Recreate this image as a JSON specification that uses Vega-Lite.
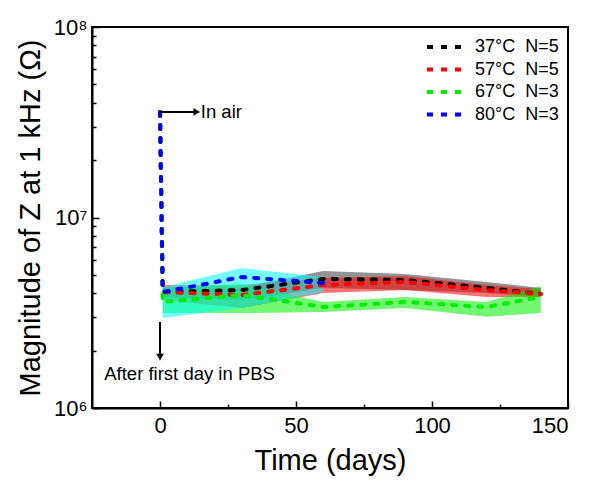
{
  "$schema": "https://vega.github.io/schema/vega-lite/v6.json",
  "autosize": {"type": "none"},
  "width": 476,
  "height": 381,
  "padding": {"left": 92, "top": 27, "right": 21, "bottom": 73},
  "config": {
    "font": "Liberation Sans",
    "view": {"stroke": "black", "strokeWidth": 2},
    "legend": {"orient": "none", "legendX": 333, "legendY": 11, "padding": 0, "symbolType": "stroke", "symbolStrokeWidth": 4, "symbolSize": 1600, "symbolDash": [6, 8], "clipHeight": 18, "labelFontSize": 18, "labelFont": "Liberation Sans", "rowPadding": 4.5, "labelOffset": 6, "labelColor": "black"}
  },
  "datasets": {
    "lines": [
      {"series": "37°C\u00a0\u00a0N=5", "day": 0, "z": 35800000, "ord": 0},
      {"series": "37°C\u00a0\u00a0N=5", "day": 1, "z": 4060000, "ord": 1},
      {"series": "37°C\u00a0\u00a0N=5", "day": 30, "z": 4160000, "ord": 2},
      {"series": "37°C\u00a0\u00a0N=5", "day": 60, "z": 4760000, "ord": 3},
      {"series": "37°C\u00a0\u00a0N=5", "day": 90, "z": 4700000, "ord": 4},
      {"series": "37°C\u00a0\u00a0N=5", "day": 120, "z": 4270000, "ord": 5},
      {"series": "37°C\u00a0\u00a0N=5", "day": 140, "z": 3970000, "ord": 6},
      {"series": "57°C\u00a0\u00a0N=5", "day": 0, "z": 35800000, "ord": 0},
      {"series": "57°C\u00a0\u00a0N=5", "day": 1, "z": 4060000, "ord": 1},
      {"series": "57°C\u00a0\u00a0N=5", "day": 30, "z": 3920000, "ord": 2},
      {"series": "57°C\u00a0\u00a0N=5", "day": 60, "z": 4420000, "ord": 3},
      {"series": "57°C\u00a0\u00a0N=5", "day": 90, "z": 4590000, "ord": 4},
      {"series": "57°C\u00a0\u00a0N=5", "day": 120, "z": 4160000, "ord": 5},
      {"series": "57°C\u00a0\u00a0N=5", "day": 140, "z": 3970000, "ord": 6},
      {"series": "67°C\u00a0\u00a0N=3", "day": 0, "z": 35800000, "ord": 0},
      {"series": "67°C\u00a0\u00a0N=3", "day": 1, "z": 3600000, "ord": 1},
      {"series": "67°C\u00a0\u00a0N=3", "day": 30, "z": 3920000, "ord": 2},
      {"series": "67°C\u00a0\u00a0N=3", "day": 60, "z": 3390000, "ord": 3},
      {"series": "67°C\u00a0\u00a0N=3", "day": 90, "z": 3600000, "ord": 4},
      {"series": "67°C\u00a0\u00a0N=3", "day": 120, "z": 3390000, "ord": 5},
      {"series": "67°C\u00a0\u00a0N=3", "day": 140, "z": 3830000, "ord": 6},
      {"series": "80°C\u00a0\u00a0N=3", "day": 0, "z": 35800000, "ord": 0},
      {"series": "80°C\u00a0\u00a0N=3", "day": 1, "z": 4060000, "ord": 1},
      {"series": "80°C\u00a0\u00a0N=3", "day": 30, "z": 4870000, "ord": 2},
      {"series": "80°C\u00a0\u00a0N=3", "day": 60, "z": 4530000, "ord": 3}
    ],
    "bands": [
      {"series": "37", "day": 1, "lo": 3830000, "hi": 4310000},
      {"series": "37", "day": 30, "lo": 3690000, "hi": 4310000},
      {"series": "37", "day": 60, "lo": 4270000, "hi": 5240000},
      {"series": "37", "day": 90, "lo": 4160000, "hi": 5050000},
      {"series": "37", "day": 120, "lo": 4020000, "hi": 4590000},
      {"series": "37", "day": 140, "lo": 3830000, "hi": 4270000},
      {"series": "57", "day": 1, "lo": 3690000, "hi": 4420000},
      {"series": "57", "day": 30, "lo": 3350000, "hi": 4420000},
      {"series": "57", "day": 60, "lo": 4020000, "hi": 4810000},
      {"series": "57", "day": 90, "lo": 4160000, "hi": 4930000},
      {"series": "57", "day": 120, "lo": 3830000, "hi": 4420000},
      {"series": "57", "day": 140, "lo": 3830000, "hi": 4210000},
      {"series": "67", "day": 1, "lo": 3150000, "hi": 4270000},
      {"series": "67", "day": 30, "lo": 3150000, "hi": 4480000},
      {"series": "67", "day": 60, "lo": 3190000, "hi": 3600000},
      {"series": "67", "day": 90, "lo": 3350000, "hi": 3830000},
      {"series": "67", "day": 120, "lo": 3010000, "hi": 3600000},
      {"series": "67", "day": 140, "lo": 3150000, "hi": 4370000},
      {"series": "80", "day": 1, "lo": 2970000, "hi": 4310000},
      {"series": "80", "day": 30, "lo": 3350000, "hi": 5430000},
      {"series": "80", "day": 60, "lo": 4060000, "hi": 4870000}
    ],
    "arrows": [
      {"x": 0, "y": 35800000, "x2": 13, "y2": 35800000},
      {"x": 0, "y": 2830000, "x2": 0, "y2": 1900000}
    ],
    "heads": [
      {"x": 13.5, "y": 35800000, "shape": "triangle-right"},
      {"x": 0, "y": 1850000, "shape": "triangle-down"}
    ],
    "labels": [
      {"x": 15, "y": 35800000, "text": "In air"},
      {"x": -20.5, "y": 1510000, "text": "After first day in PBS"}
    ]
  },
  "layer": [
    {
      "data": {"name": "bands"},
      "mark": {"type": "area", "fillOpacity": 0.55, "strokeWidth": 0},
      "encoding": {
        "x": {"field": "day", "type": "quantitative", "scale": {"domain": [-25, 150], "nice": false},
          "axis": {"values": [25, 75, 125], "labels": false, "domain": false, "grid": false, "tickSize": -4, "tickColor": "black", "tickWidth": 1.5, "title": null, "orient": "bottom"}},
        "y": {"field": "hi", "type": "quantitative", "scale": {"type": "log", "domain": [1000000, 100000000], "nice": false},
          "axis": {"values": [2000000, 3000000, 4000000, 5000000, 6000000, 7000000, 8000000, 9000000, 20000000, 30000000, 40000000, 50000000, 60000000, 70000000, 80000000, 90000000], "labels": false, "domain": false, "grid": false, "tickSize": -4, "tickColor": "black", "tickWidth": 1.5, "title": null, "orient": "left"}},
        "y2": {"field": "lo"},
        "fill": {"field": "series", "type": "nominal", "scale": {"domain": ["37", "57", "67", "80"], "range": ["#3a3a3a", "#ff0000", "#00f000", "#00ffff"]}, "legend": null}
      }
    },
    {
      "data": {"name": "lines"},
      "mark": {"type": "line", "strokeWidth": 4, "strokeDash": [4, 9], "strokeCap": "round"},
      "encoding": {
        "x": {"field": "day", "type": "quantitative",
          "axis": {"values": [0, 50, 100, 150], "grid": false, "tickSize": -7, "tickColor": "black", "tickWidth": 1.5, "domainColor": "black", "domainWidth": 2, "labelFontSize": 22, "labelColor": "black", "labelPadding": 14, "title": "Time (days)", "titleFontSize": 29, "titleFontWeight": "normal", "titleColor": "black", "titlePadding": 10, "orient": "bottom"}},
        "y": {"field": "z", "type": "quantitative",
          "axis": {"values": [1000000, 10000000, 100000000], "labelExpr": "datum.value < 5000000 ? '10⁶' : datum.value < 50000000 ? '10⁷' : '10⁸'", "grid": false, "tickSize": -7, "tickColor": "black", "tickWidth": 1.5, "domainColor": "black", "domainWidth": 2, "labelFontSize": 22, "labelColor": "black", "labelPadding": 12, "title": "Magnitude of Z at 1 kHz (Ω)", "titleFontSize": 29, "titleFontWeight": "normal", "titleColor": "black", "titlePadding": 8, "orient": "left"}},
        "color": {"field": "series", "type": "nominal", "title": null, "scale": {"domain": ["37°C\u00a0\u00a0N=5", "57°C\u00a0\u00a0N=5", "67°C\u00a0\u00a0N=3", "80°C\u00a0\u00a0N=3"], "range": ["#000000", "#ff0000", "#00ee00", "#0000ff"]}},
        "order": {"field": "ord", "type": "quantitative"}
      }
    },
    {
      "data": {"name": "arrows"},
      "mark": {"type": "rule", "color": "black", "strokeWidth": 2},
      "encoding": {
        "x": {"field": "x", "type": "quantitative", "axis": null},
        "x2": {"field": "x2"},
        "y": {"field": "y", "type": "quantitative", "axis": null},
        "y2": {"field": "y2"}
      }
    },
    {
      "data": {"name": "heads"},
      "mark": {"type": "point", "filled": true, "color": "black", "size": 60, "opacity": 1},
      "encoding": {
        "x": {"field": "x", "type": "quantitative", "axis": null},
        "y": {"field": "y", "type": "quantitative", "axis": null},
        "shape": {"field": "shape", "type": "nominal", "scale": null, "legend": null}
      }
    },
    {
      "data": {"name": "labels"},
      "mark": {"type": "text", "align": "left", "baseline": "middle", "fontSize": 18.5, "color": "black", "font": "Liberation Sans"},
      "encoding": {
        "x": {"field": "x", "type": "quantitative", "axis": null},
        "y": {"field": "y", "type": "quantitative", "axis": null},
        "text": {"field": "text"}
      }
    }
  ],
  "resolve": {"axis": {"x": "independent", "y": "independent"}}
}
